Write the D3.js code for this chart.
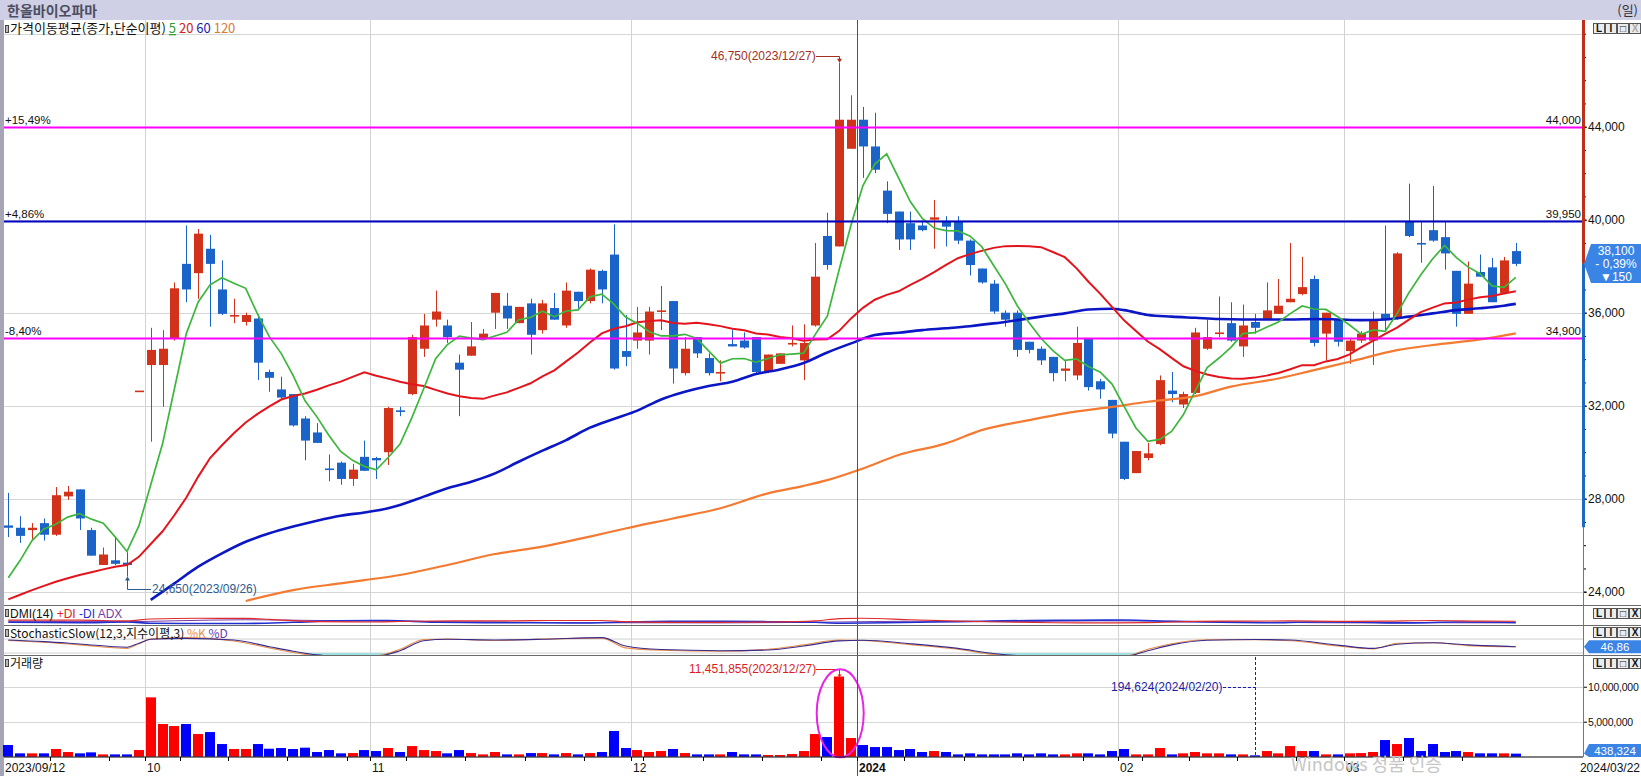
<!DOCTYPE html>
<html><head><meta charset="utf-8">
<script src="https://cdn.jsdelivr.net/npm/d3@7"></script>
<style>
html,body{margin:0;padding:0;background:#fff;overflow:hidden;}
svg{display:block;}
text{font-family:"Liberation Sans","Noto Sans CJK KR",sans-serif;}
.kr{font-family:"Noto Sans CJK KR","Liberation Sans",sans-serif;}
</style></head><body>
<svg id="chart" width="1641" height="776"></svg>
<script>
// ---------------- DATA ----------------
const dates = [
"2023/09/12","2023/09/13","2023/09/14","2023/09/15","2023/09/18","2023/09/19","2023/09/20","2023/09/21","2023/09/22","2023/09/25","2023/09/26","2023/09/27",
"2023/10/04","2023/10/05","2023/10/06","2023/10/10","2023/10/11","2023/10/12","2023/10/13","2023/10/16","2023/10/17","2023/10/18","2023/10/19","2023/10/20","2023/10/23","2023/10/24","2023/10/25","2023/10/26","2023/10/27","2023/10/30","2023/10/31",
"2023/11/01","2023/11/02","2023/11/03","2023/11/06","2023/11/07","2023/11/08","2023/11/09","2023/11/10","2023/11/13","2023/11/14","2023/11/15","2023/11/16","2023/11/17","2023/11/20","2023/11/21","2023/11/22","2023/11/23","2023/11/24","2023/11/27","2023/11/28","2023/11/29","2023/11/30",
"2023/12/01","2023/12/04","2023/12/05","2023/12/06","2023/12/07","2023/12/08","2023/12/11","2023/12/12","2023/12/13","2023/12/14","2023/12/15","2023/12/18","2023/12/19","2023/12/20","2023/12/21","2023/12/22","2023/12/26","2023/12/27","2023/12/28",
"2024/01/02","2024/01/03","2024/01/04","2024/01/05","2024/01/08","2024/01/09","2024/01/10","2024/01/11","2024/01/12","2024/01/15","2024/01/16","2024/01/17","2024/01/18","2024/01/19","2024/01/22","2024/01/23","2024/01/24","2024/01/25","2024/01/26","2024/01/29","2024/01/30","2024/01/31",
"2024/02/01","2024/02/02","2024/02/05","2024/02/06","2024/02/07","2024/02/08","2024/02/13","2024/02/14","2024/02/15","2024/02/16","2024/02/19","2024/02/20","2024/02/21","2024/02/22","2024/02/23","2024/02/26","2024/02/27","2024/02/28","2024/02/29",
"2024/03/04","2024/03/05","2024/03/06","2024/03/07","2024/03/08","2024/03/11","2024/03/12","2024/03/13","2024/03/14","2024/03/15","2024/03/18","2024/03/19","2024/03/20","2024/03/21","2024/03/22"];

const opens = [26850,26750,26650,26950,26450,28100,28400,26650,25150,25350,25250,32650,
33750,33750,34900,38100,37700,38750,37000,35850,35600,35750,33450,32700,32500,31450,30850,29300,29550,28850,29800,
29750,30000,31800,32500,34450,35700,35450,33850,34150,34900,36000,36300,35550,36400,35250,36200,35450,36900,36500,37800,38500,34350,
34800,34800,36050,36500,33400,34950,34050,33400,34650,34800,34950,33450,33800,34650,33950,35450,39300,38850,43050,
44300,43150,41250,40350,39850,39750,40000,39900,39900,39100,37900,37250,36000,36000,34750,34450,34100,33500,33300,34900,33050,32250,
30450,29100,29750,30350,32650,32050,32550,34450,35150,35550,34550,35600,35700,35950,36450,36800,37450,35100,35700,
34350,34800,34800,35950,35750,39900,39000,39550,39250,37800,35950,37750,37950,36850,38650];
const highs = [28250,27250,26950,27150,28500,28550,28400,26750,25900,26350,25700,32650,
35350,35250,37300,39750,39600,39350,38250,36600,36000,35950,33550,33250,32500,31550,31250,29900,29600,29500,30500,
29800,31950,31950,35050,35950,36950,35700,34200,35600,35300,36850,36850,36250,36600,36550,36850,37300,36900,37900,37850,39800,35900,
36250,36250,37150,36500,34950,34950,34250,33950,35250,35150,34950,34200,34250,35450,35500,39000,40300,46750,45350,
44850,44600,41650,40350,40350,39950,40850,40150,40150,39150,37900,37400,36100,36100,34750,34550,34100,33950,35400,34900,33150,32250,
30450,30050,30400,33300,33450,32600,35350,35700,36700,36450,36350,35950,37300,37450,39000,38400,37600,36000,35700,
34900,35200,36050,39750,38600,41550,39900,41450,39900,37800,38200,38500,38350,38400,39000];
const lows = [26350,26100,26250,26200,26400,27950,26650,25550,25150,25150,24650,32650,
30450,31950,34800,36450,36600,35400,35900,35550,35450,33100,32600,32300,31100,29650,30400,28750,28600,28550,29200,
28850,29450,31550,32450,34100,35400,34700,31550,34150,34850,35300,35300,35550,34200,35100,35700,35350,36100,36400,36400,33550,33700,
34450,34200,35250,32950,33300,34050,33300,33050,34550,34450,33400,33400,33800,34550,33100,35400,37850,38850,43050,
41800,42000,39850,38700,38700,39500,38750,38850,38950,37600,37250,35950,35400,34100,34250,33750,33050,33050,33100,32650,32300,30600,
28800,29100,29650,30300,32150,31900,32500,34400,34950,34750,34100,35100,35700,35950,36450,36750,34550,33950,34550,
33800,34700,33750,35250,35700,39250,38150,39050,37850,35400,35950,37550,36450,36800,38000];
const closes = [26750,26400,26750,26450,28150,28300,27150,25550,25600,25200,25150,32650,
34400,34450,37050,37000,39400,38100,35950,35900,35900,33850,33200,32350,31150,30500,30400,29250,28850,29250,29200,
29650,31900,31750,34950,35450,36050,34950,33550,34550,35100,36850,35750,36250,35050,36400,35700,36950,36500,37850,37000,33600,34100,
35150,36050,36100,33600,34450,34250,33400,33450,34550,34500,33450,34200,34250,34700,34700,37550,38050,44300,44300,
43150,42150,40250,39150,39150,39550,40100,39700,39100,38050,37300,36050,35700,34400,34400,33950,33400,33600,34700,32800,32700,30800,
28850,30050,29950,33100,32500,32500,35150,34950,35150,34800,35450,35350,36100,36300,36600,37100,34700,36000,34750,
34800,35100,35650,35700,38550,39300,38950,39100,38550,35950,37250,37550,36450,38250,38100];
const volumes = [1670000,480000,480000,480000,1100000,670000,480000,620000,330000,330000,330000,950000,
8480000,4670000,4380000,4670000,3240000,3520000,1810000,1100000,1100000,1810000,1140000,1240000,1100000,1290000,670000,950000,480000,520000,950000,
810000,1240000,670000,1520000,950000,810000,480000,950000,520000,330000,670000,330000,330000,520000,520000,330000,520000,330000,520000,670000,3670000,1240000,
950000,670000,810000,1100000,520000,330000,330000,330000,670000,330000,330000,240000,240000,380000,810000,3240000,2810000,11451855,2670000,
1670000,1380000,1380000,950000,1100000,670000,810000,670000,330000,480000,330000,330000,330000,480000,330000,480000,330000,330000,480000,480000,330000,810000,
1100000,330000,330000,1240000,330000,480000,670000,480000,480000,330000,330000,194624,810000,480000,1520000,810000,810000,330000,330000,
480000,520000,670000,2380000,1810000,2670000,810000,1810000,670000,810000,670000,480000,480000,480000,438324];

// moving averages (one value per candle)
const ma5 = [24600,25350,26200,26700,26900,27210,27360,27120,26950,26360,25730,26830,
28600,30370,32740,35110,36460,37200,37500,37270,37050,35940,34960,34240,33290,32210,31520,30730,30030,29650,29390,
29240,29770,30350,31490,32740,34020,34630,34990,34910,34840,35000,35160,35700,35800,36060,35830,36070,36120,36680,36800,36380,35810,
35540,35180,35000,35000,35070,34890,34360,33830,34020,34030,33870,34030,34190,34220,34260,35080,35850,37860,39780,
41470,42390,42830,41800,40770,40050,39640,39530,39520,39300,38850,38040,37240,36300,35570,34900,34370,33950,34010,33690,33440,32920,
31970,31040,30470,30550,30890,31620,32640,33640,34050,34510,35100,35140,35370,35600,35960,36290,36160,36140,35830,
35470,35070,35260,35200,35960,36860,37630,38320,38890,38370,37960,37680,37150,37090,37520];
const ma20 = [23670,23870,24070,24250,24430,24580,24720,24840,24960,25070,25150,25500,
26050,26600,27300,28050,28950,29750,30300,30818,31275,31648,31970,32265,32415,32525,32688,32873,33035,33238,33440,
33290,33165,33030,32925,32848,32680,32523,32403,32335,32295,32445,32573,32768,32963,33258,33523,33908,34290,34720,35110,35308,35418,
35588,35643,35675,35553,35528,35563,35505,35423,35308,35245,35105,35063,34955,34905,34793,34845,34855,35220,35755,
36208,36558,36768,36920,37198,37453,37745,38060,38343,38518,38658,38788,38863,38870,38855,38818,38610,38388,37908,37333,36810,36243,
35673,35218,34758,34435,34055,33695,33498,33343,33235,33173,33160,33208,33293,33410,33570,33745,33745,33905,34008,
34208,34520,34800,35088,35360,35700,36023,36220,36400,36440,36563,36668,36723,36830,36920];
// [candle index, value] samples
const ma60 = [[12,23650],[14,24360],[16,25076],[18,25650],[20,26150],[22,26510],[24,26800],[26,27055],[28,27270],[30,27410],[32,27590],[33,27730],[35,28090],[37,28450],[39,28730],[41,29090],[43,29590],[45,30065],[47,30520],[49,31055],[51,31430],[53,31790],[55,32270],[57,32600],[59,32850],[61,33030],[63,33360],[65,33560],[67,33840],[69,34290],[71,34680],[73,35040],[75,35140],[77,35250],[79,35330],[81,35420],[83,35540],[85,35680],[87,35830],[89,35970],[91,36140],[93,36170],[94,36110],[96,35900],[98,35830],[100,35780],[102,35730],[104,35710],[106,35710],[108,35710],[110,35730],[112,35710],[114,35680],[116,35710],[118,35830],[120,35970],[122,36110],[124,36190],[126,36300],[127,36380]];
const ma120 = [[20,23600],[24,24070],[28,24360],[30,24500],[33,24720],[37,25150],[41,25620],[45,25940],[49,26370],[52,26720],[56,27150],[60,27590],[64,28230],[67,28550],[69,28800],[72,29300],[75,29880],[79,30380],[82,30950],[86,31380],[89,31670],[93,31950],[96,32170],[100,32410],[103,32820],[107,33170],[110,33530],[113,33890],[117,34390],[120,34610],[124,34850],[127,35110]];

const plusDI = [[0,33],[6,33],[10,27],[12,40],[16,45],[20,44],[22,38],[26,22],[30,20],[34,25],[38,28],[42,28],[46,30],[50,30],[52,22],[56,18],[60,18],[64,20],[68,28],[70,42],[72,45],[76,35],[80,26],[84,20],[88,15],[92,14],[96,16],[100,24],[104,26],[108,27],[112,24],[116,26],[120,30],[124,26],[127,25]];
const minusDI = [[0,18],[6,15],[10,20],[12,12],[16,10],[20,10],[24,18],[28,28],[32,30],[36,18],[40,16],[44,15],[48,13],[52,20],[56,24],[60,25],[64,22],[68,18],[70,12],[74,15],[78,20],[82,25],[86,30],[90,32],[94,33],[98,24],[102,18],[106,15],[110,20],[114,18],[118,14],[122,20],[127,17]];
const adx = [[0,25],[10,22],[14,28],[20,35],[26,30],[32,25],[40,20],[50,15],[60,14],[70,20],[76,25],[84,22],[92,28],[98,25],[106,18],[114,14],[120,15],[127,14]];
const stochD = [[0,76],[3,69],[6,59],[10,45],[11,62],[12,79],[15,83],[19,76],[22,47],[24,28],[26,12],[28,6],[31,6],[33,30],[35,73],[37,79],[41,76],[45,79],[50,86],[52,50],[55,35],[60,30],[64,33],[67,50],[70,72],[72,75],[76,60],[80,40],[83,18],[86,7],[90,5],[94,5],[96,30],[98,55],[101,75],[105,78],[108,76],[112,54],[115,40],[117,58],[120,64],[123,55],[127,47]];
const stochK = [[0,74],[3,66],[6,55],[10,40],[11,60],[12,80],[15,86],[19,72],[22,42],[24,22],[26,8],[28,4],[31,8],[33,36],[35,78],[37,80],[41,74],[45,80],[50,84],[52,42],[55,32],[60,28],[64,36],[67,55],[70,76],[72,74],[76,56],[80,36],[83,14],[86,5],[90,4],[94,6],[96,36],[98,60],[101,77],[105,77],[108,73],[112,50],[115,38],[117,62],[120,64],[123,52],[127,46.86]];

const priceTicks = [24000,28000,32000,36000,40000,44000];
const priceGrid = [24000,28000,32000,36000,40000,44000,48000];
const volumeTicks = [5000000,10000000];
const levels = [
  {value:44000, label:"+15,49%", color:"#ff00ff"},
  {value:39950, label:"+4,86%", color:"#0000c4"},
  {value:34900, label:"-8,40%", color:"#ff00ff"}];
const monthStarts = [12,31,53,72,94,113];
const monthLabels = ["10","11","12","2024","02","03"];
const weekStarts = [4,9,12,15,19,24,29,31,34,39,44,49,53,54,59,64,69,72,76,81,86,91,94,96,100,104,109,113,118,123];
const lastPrice = 38100, prevClose = 38250, upperLimit = 49725, lowerLimit = 26775;

// ---------------- SCALES ----------------
const svg = d3.select("#chart");
const XL = 4, XR = 1583;
const x = d3.scaleBand().domain(dates).range([2.365, 1521.725]).padding(0);
const cx = i => x(dates[i]) + x.bandwidth()/2;
const y = d3.scaleLinear().domain([23428, 48589]).range([605, 20]);
const yv = d3.scaleLinear().domain([0, 14530000]).range([756.7, 655]);
const ys = d3.scaleLinear().domain([0, 100]).range([657.7, 634.4]);
const yd = d3.scaleLinear().domain([0, 100]).range([625, 610]);
const fmt = d3.format(",");
const UP = "#d3321a", DN = "#1a63c8";

svg.append("rect").attr("width",1641).attr("height",776).attr("fill","#fff");
const defs = svg.append("defs");
defs.append("clipPath").attr("id","pclip").append("rect").attr("x",XL).attr("y",20).attr("width",XR-XL).attr("height",585);
defs.append("clipPath").attr("id","sclip").append("rect").attr("x",XL).attr("y",625).attr("width",XR-XL).attr("height",30);
defs.append("clipPath").attr("id","dclip").append("rect").attr("x",XL).attr("y",605).attr("width",XR-XL).attr("height",20);

// header
svg.append("rect").attr("x",0).attr("y",0).attr("width",1641).attr("height",20).attr("fill","#cfcfe6");
svg.append("text").attr("class","kr").attr("x",7).attr("y",15.5).attr("font-size",14).attr("font-weight","bold").attr("fill","#4d4d60").text("한올바이오파마");
svg.append("text").attr("class","kr").attr("x",1638).attr("y",15).attr("text-anchor","end").attr("font-size",13).attr("fill","#333").text("(일)");
svg.append("rect").attr("x",0).attr("y",20).attr("width",4).attr("height",756).attr("fill","#a5a5b5");

// grid
const grid = svg.append("g");
priceGrid.forEach(v => grid.append("line").attr("x1",XL).attr("x2",XR).attr("y1",Math.round(y(v))+0.5).attr("y2",Math.round(y(v))+0.5).attr("stroke","#d6d6d6"));
volumeTicks.forEach(v => grid.append("line").attr("x1",XL).attr("x2",XR).attr("y1",Math.round(yv(v))+0.5).attr("y2",Math.round(yv(v))+0.5).attr("stroke","#d6d6d6"));
[80,20].forEach(v => grid.append("line").attr("x1",XL).attr("x2",XR).attr("y1",ys(v)).attr("y2",ys(v)).attr("stroke","#d0d0d0"));
monthStarts.forEach((m,k) => {
  const gx = Math.round(x(dates[m]))+0.5;
  if (monthLabels[k] === "2024") return;
  grid.append("line").attr("x1",gx).attr("x2",gx).attr("y1",20).attr("y2",757).attr("stroke","#d2d2d2");
});

[605,625,655].forEach(py => svg.append("line").attr("x1",XL).attr("x2",1641).attr("y1",py+0.5).attr("y2",py+0.5).attr("stroke","#6a6a6a"));

// ---------------- CANDLES ----------------
const pg = svg.append("g").attr("clip-path","url(#pclip)");
const cg = pg.append("g");
dates.forEach((d,i) => {
  const up = closes[i] >= opens[i];
  const col = up ? UP : DN;
  const xc = Math.round(cx(i)) + 0.5;
  cg.append("line").attr("x1",xc).attr("x2",xc).attr("y1",y(highs[i])).attr("y2",y(lows[i])).attr("stroke",col).attr("stroke-width",1);
  const top = y(Math.max(opens[i],closes[i])), bot = y(Math.min(opens[i],closes[i]));
  cg.append("rect").attr("x",Math.round(cx(i))-4).attr("width",9).attr("y",top).attr("height",Math.max(1.6,bot-top)).attr("fill",col);
});

const lineIdx = d3.line().x((d,i)=>cx(i)).y(d=>y(d));
const linePair = d3.line().x(d=>cx(d[0])).y(d=>y(d[1])).curve(d3.curveMonotoneX);
pg.append("path").attr("d",linePair(ma120)).attr("fill","none").attr("stroke","#f47a32").attr("stroke-width",2.2);
pg.append("path").attr("d",linePair(ma60)).attr("fill","none").attr("stroke","#0b16c4").attr("stroke-width",2.6);
pg.append("path").attr("d",lineIdx(ma20)).attr("fill","none").attr("stroke","#e3141c").attr("stroke-width",2);
pg.append("path").attr("d",lineIdx(ma5)).attr("fill","none").attr("stroke","#3cb63c").attr("stroke-width",1.7);

levels.forEach(l => {
  const ly = Math.round(y(l.value))+0.5;
  svg.append("line").attr("x1",XL).attr("x2",XR).attr("y1",ly).attr("y2",ly).attr("stroke",l.color).attr("stroke-width",2);
  svg.append("text").attr("x",5).attr("y",ly-4).attr("font-size",11.5).attr("fill","#111").text(l.label);
  svg.append("text").attr("x",1581).attr("y",ly-4).attr("text-anchor","end").attr("font-size",11.5).attr("fill","#111").text(fmt(l.value));
});

const hiI = dates.indexOf("2023/12/27"), loI = dates.indexOf("2023/09/26");
const hx = Math.round(cx(hiI))+0.5;
svg.append("text").attr("x",711).attr("y",60).attr("font-size",12).attr("fill","#a3301f").text(fmt(highs[hiI])+"("+dates[hiI]+")");
svg.append("path").attr("d",`M816,56.5H${hx}V${y(highs[hiI])-2}`).attr("fill","none").attr("stroke","#a3301f");
svg.append("path").attr("d",`M${hx-2.5},${y(highs[hiI])-4}L${hx+2.5},${y(highs[hiI])-4}L${hx},${y(highs[hiI])}Z`).attr("fill","#a3301f");
const lx = Math.round(cx(loI))+0.5;
svg.append("text").attr("x",152).attr("y",592.5).attr("font-size",12).attr("fill","#2b5c8f").text(fmt(lows[loI])+"("+dates[loI]+")");
svg.append("path").attr("d",`M${lx},${y(lows[loI])+2}V589.5H151`).attr("fill","none").attr("stroke","#2b5c8f");
svg.append("path").attr("d",`M${lx-2.5},${y(lows[loI])+4}L${lx+2.5},${y(lows[loI])+4}L${lx},${y(lows[loI])}Z`).attr("fill","#2b5c8f");

function icon(px,py){ svg.append("rect").attr("x",px).attr("y",py).attr("width",4).attr("height",8).attr("fill","#444"); svg.append("rect").attr("x",px+1).attr("y",py+1).attr("width",2).attr("height",6).attr("fill","#bbb"); }
icon(5,25);
const pl = svg.append("text").attr("class","kr").attr("x",10).attr("y",33).attr("font-size",13).attr("fill","#111");
pl.append("tspan").text("가격이동평균(종가,단순이평) ");
pl.append("tspan").attr("fill","#2ea02e").attr("text-decoration","underline").text("5");
pl.append("tspan").attr("fill","#d42020").text(" 20");
pl.append("tspan").attr("fill","#1a1ab4").text(" 60");
pl.append("tspan").attr("fill","#e07a30").text(" 120");

// ---------------- DMI ----------------
const dg = svg.append("g").attr("clip-path","url(#dclip)");
const lineD = d3.line().x(d=>cx(d[0])).y(d=>yd(d[1])).curve(d3.curveMonotoneX);
dg.append("path").attr("d",lineD(adx)).attr("fill","none").attr("stroke","#7a3aa8").attr("stroke-width",1);
dg.append("path").attr("d",lineD(minusDI)).attr("fill","none").attr("stroke","#2030d0").attr("stroke-width",1.6);
dg.append("path").attr("d",lineD(plusDI)).attr("fill","none").attr("stroke","#e02a2a").attr("stroke-width",1.2);
icon(5,609);
const dl = svg.append("text").attr("x",10).attr("y",617.5).attr("font-size",12).attr("fill","#111");
dl.append("tspan").text("DMI(14) ");
dl.append("tspan").attr("fill","#e02020").text("+DI");
dl.append("tspan").attr("fill","#2030d0").text(" -DI");
dl.append("tspan").attr("fill","#7a3aa8").text(" ADX");

// ---------------- STOCHASTIC ----------------
const sg = svg.append("g").attr("clip-path","url(#sclip)");
const areaS = d3.area().x(d=>cx(d[0])).y0(ys(20)).y1(d=>ys(Math.min(20,d[1]))).curve(d3.curveMonotoneX);
sg.append("path").attr("d",areaS(stochK)).attr("fill","#9fe0e0");
const lineS = d3.line().x(d=>cx(d[0])).y(d=>ys(d[1])).curve(d3.curveMonotoneX);
sg.append("path").attr("d",lineS(stochK)).attr("fill","none").attr("stroke","#e8904c").attr("stroke-width",1.1);
sg.append("path").attr("d",lineS(stochD)).attr("fill","none").attr("stroke","#3a2a8a").attr("stroke-width",1.1);
icon(5,629);
const sl = svg.append("text").attr("class","kr").attr("x",10).attr("y",637.5).attr("font-size",12).attr("fill","#111");
sl.append("tspan").text("StochasticSlow(12,3,지수이평,3) ");
sl.append("tspan").attr("fill","#e8904c").text("%K");
sl.append("tspan").attr("fill","#6a3ab0").text(" %D");

// ---------------- VOLUME ----------------
const vg = svg.append("g");
dates.forEach((d,i) => {
  const up = closes[i] >= opens[i];
  vg.append("rect").attr("x",Math.round(cx(i))-5).attr("width",10).attr("y",yv(volumes[i])).attr("height",yv(0)-yv(volumes[i])).attr("fill",up?"#ff0000":"#0000ff");
});
icon(5,659);
svg.append("text").attr("class","kr").attr("x",10).attr("y",667.5).attr("font-size",12).attr("fill","#111").text("거래량");
const vmaxI = volumes.indexOf(d3.max(volumes)), vminI = volumes.indexOf(d3.min(volumes));
const vx = Math.round(cx(vmaxI))+0.5;
svg.append("text").attr("x",689).attr("y",673).attr("font-size",12).attr("fill","#dd1c1c").text(fmt(volumes[vmaxI])+"("+dates[vmaxI]+")");
svg.append("path").attr("d",`M816,669.5H${vx}V${yv(volumes[vmaxI])-1}`).attr("fill","none").attr("stroke","#dd1c1c");
svg.append("path").attr("d",`M${vx-2},${yv(volumes[vmaxI])-2}L${vx+2},${yv(volumes[vmaxI])-2}L${vx},${yv(volumes[vmaxI])+1}Z`).attr("fill","#dd1c1c");
svg.append("ellipse").attr("cx",cx(vmaxI)+1).attr("cy",713.3).attr("rx",23.5).attr("ry",44).attr("fill","none").attr("stroke","#e624e6").attr("stroke-width",2);
const mx = Math.round(cx(vminI))+0.5;
svg.append("text").attr("x",1111).attr("y",691).attr("font-size",12).attr("fill","#1c1ca6").text(fmt(volumes[vminI])+"("+dates[vminI]+")");
svg.append("path").attr("d",`M1223,687.5H${mx}`).attr("stroke","#1c1ca6").attr("stroke-dasharray","3,2");
svg.append("path").attr("d",`M${mx},657V${yv(0)}`).attr("stroke","#1c1ca6").attr("stroke-dasharray","3,2");

svg.append("line").attr("x1",XL).attr("x2",XR).attr("y1",757).attr("y2",757).attr("stroke","#000");

const yx = Math.round(x(dates[72]))+0.5;
svg.append("line").attr("x1",yx).attr("x2",yx).attr("y1",20).attr("y2",776).attr("stroke","#cc2020");

// ---------------- AXES ----------------
const ax = svg.append("g").attr("transform",`translate(${XR},0)`);
ax.call(d3.axisRight(y).tickValues(d3.range(24000,48001,1000)).tickSize(3).tickFormat(""));
ax.call(g=>g.select(".domain").remove());
const ax2 = svg.append("g").attr("transform",`translate(${XR},0)`);
ax2.call(d3.axisRight(y).tickValues(priceTicks).tickSize(4).tickPadding(1).tickFormat(fmt));
ax2.call(g=>g.select(".domain").remove());
ax2.selectAll("text").attr("font-size",12).attr("fill","#111").attr("font-family","Liberation Sans");
const ax3 = svg.append("g").attr("transform",`translate(${XR},0)`);
ax3.call(d3.axisRight(yv).tickValues(volumeTicks).tickSize(4).tickPadding(1).tickFormat(fmt));
ax3.call(g=>g.select(".domain").remove());
ax3.selectAll("text").attr("font-size",10.5).attr("letter-spacing","-0.2").attr("fill","#111").attr("font-family","Liberation Sans");
svg.append("line").attr("x1",XR+0.5).attr("x2",XR+0.5).attr("y1",20).attr("y2",757).attr("stroke","#777");
svg.append("line").attr("x1",XR+0.5).attr("x2",XR+0.5).attr("y1",20).attr("y2",y(lastPrice)).attr("stroke","#c03018").attr("stroke-width",3);
svg.append("line").attr("x1",XR+0.5).attr("x2",XR+0.5).attr("y1",y(lastPrice)).attr("y2",y(lowerLimit)).attr("stroke","#2168c0").attr("stroke-width",3);

const py0 = y(lastPrice);
svg.append("path").attr("d",`M${XR+1},${py0}L1591,244H1641V283H1591Z`).attr("fill","#3a84e6");
const chg = lastPrice - prevClose;
[[fmt(lastPrice),255],["- "+(Math.abs(chg)/prevClose*100).toFixed(2).replace(".",",")+"%",268],["▼"+Math.abs(chg),281]].forEach(t=>
  svg.append("text").attr("x",1616).attr("y",t[1]).attr("text-anchor","middle").attr("font-size",12).attr("fill","#fff").text(t[0]));
const sy0 = ys(stochK[stochK.length-1][1]);
svg.append("path").attr("d",`M${XR+1},${sy0}L1589,${sy0-6.5}H1641V${sy0+6.5}H1589Z`).attr("fill","#3a84e6");
svg.append("text").attr("x",1615).attr("y",sy0+4.5).attr("text-anchor","middle").attr("font-size",11.5).attr("fill","#fff").text(String(stochK[stochK.length-1][1]).replace(".",","));
const vy0 = yv(volumes[volumes.length-1]);
svg.append("path").attr("d",`M${XR+1},${vy0}L1589,744H1641V757H1589Z`).attr("fill","#3a84e6");
svg.append("text").attr("x",1615).attr("y",755).attr("text-anchor","middle").attr("font-size",11.5).attr("fill","#fff").text(fmt(volumes[volumes.length-1]));

function buttons(by, dimX){
  ["L","I","□","X"].forEach((t,k)=>{
    const bx = 1593 + k*12;
    svg.append("rect").attr("x",bx+0.5).attr("y",by+0.5).attr("width",11).attr("height",10).attr("fill","#ececec").attr("stroke","#555");
    svg.append("text").attr("x",bx+6).attr("y",by+9).attr("text-anchor","middle").attr("font-size",10).attr("font-weight","bold").attr("fill",(dimX&&t==="X")?"#aaa":"#111").text(t);
  });
}
buttons(23,true); buttons(608,false); buttons(627,false); buttons(658,false);

const dax = svg.append("g").attr("transform","translate(0,757)");
dax.call(d3.axisBottom(x).tickValues(weekStarts.map(i=>dates[i])).tickSize(4).tickFormat(""));
dax.call(g=>g.select(".domain").remove());
dax.selectAll(".tick").attr("transform",d=>`translate(${Math.round(x(d))+0.5},0)`);
svg.append("text").attr("x",5).attr("y",772).attr("font-size",12).attr("fill","#111").text(dates[0]);
monthStarts.forEach((m,k)=>{
  svg.append("text").attr("x",Math.round(x(dates[m]))+2).attr("y",772).attr("font-size",12)
    .attr("font-weight",monthLabels[k]==="2024"?"bold":"normal").attr("fill","#111").text(monthLabels[k]);
});
svg.append("text").attr("x",1640).attr("y",772).attr("text-anchor","end").attr("font-size",12).attr("fill","#111").text(dates[dates.length-1]);
svg.append("text").attr("class","kr").attr("x",1291).attr("y",771).attr("font-size",18).attr("fill","#c6c6c6").text("Windows 정품 인증");
</script>
</body></html>
